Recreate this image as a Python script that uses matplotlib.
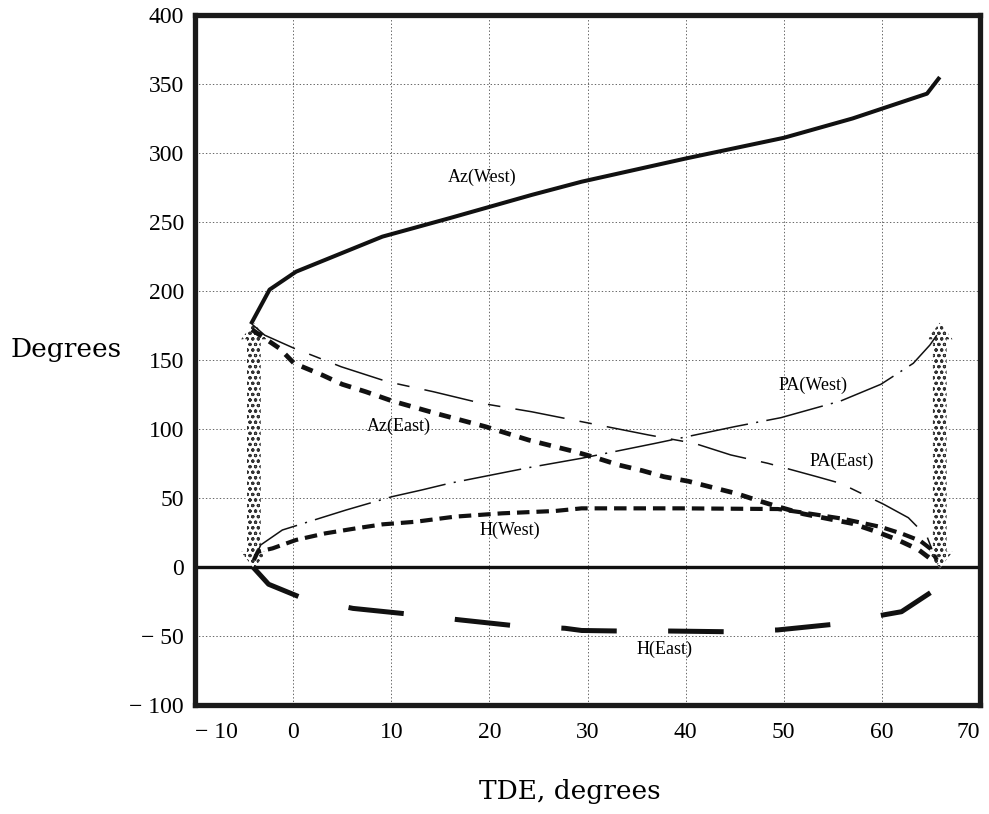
import matplotlib
matplotlib.use("Agg")
import matplotlib.pyplot as plt
from matplotlib.patches import Polygon

plt.rcParams["lines.scale_dashes"] = False
plt.rcParams["hatch.linewidth"] = 0.8

# TDE (degrees) and angle (degrees) samples for each curve
az_west_x = [-4.3, -3.8, -2.4, 0.3, 9.1, 15.9, 24.3, 29.4, 40.0, 50.0, 57.0, 64.6, 65.9]
az_west_y = [176, 182.6, 201, 214, 239.4, 252.7, 269.6, 279.2, 296, 311, 325, 343, 355]

az_east_x = [-4.2, -1.4, 0.1, 3.0, 5.0, 7.4, 10.1, 14.5, 19.6, 24.0, 28.7, 30.7, 33.2,
             35.6, 37.8, 40.3, 42.7, 45.1, 47.4, 49.4, 52.0, 57.0, 59.4, 61.5, 63.7, 65.5]
az_east_y = [172, 158.5, 147.6, 139, 132.4, 127, 120.3, 111.4, 101.7, 92, 83.6, 79.5, 73.9,
             69.8, 65.4, 62.1, 57.7, 53.4, 48.1, 43.7, 38.5, 31.5, 25.7, 20, 12.7, 3]

h_west_x = [-4.0, -3.6, -2.1, 0.3, 3.3, 6.4, 9.1, 12.5, 16.5, 21.3, 26.7, 29.4, 39.5,
            49.4, 51.9, 56.0, 59.9, 62.1, 63.9, 65.0, 65.6]
h_west_y = [5, 11, 13.5, 19.6, 24.4, 28, 30.9, 32.8, 36.5, 38.9, 40.6, 42.5, 42.5,
            42, 39.5, 35, 29, 24, 19, 13, 5]

h_east_x = [-4.1, -2.5, 1.0, 6.1, 11.6, 17.1, 22.5, 27.7, 29.4, 33.3, 38.4, 44.1,
            49.4, 55.1, 60.1, 62.0, 65.1, 65.8]
h_east_y = [0, -12.5, -22.7, -30, -34, -38.4, -42.5, -44.4, -46, -46.4, -46.4, -46.9,
            -45.6, -41.5, -34.8, -32.4, -17.9, 0]

pa_west_x = [-4.0, -3.3, -1.1, 2.7, 5.4, 10.1, 13.1, 15.9, 24.0, 29.4, 36.9, 45.0,
             49.7, 55.8, 59.9, 63.2, 64.9, 65.6]
pa_west_y = [5, 16, 26.8, 35.3, 41.3, 51, 55.8, 60.6, 72, 78.8, 89.6, 101.7,
             108.2, 120.3, 132.4, 147.6, 160.9, 168]

pa_east_x = [-4.2, -2.9, 0.1, 2.3, 4.9, 9.6, 14.3, 19.2, 24.3, 29.4, 31.1, 36.2,
             40.9, 44.6, 48.4, 53.4, 55.8, 60.2, 62.7, 64.6, 65.7]
pa_east_y = [176, 168, 158.5, 152.4, 145.1, 134.3, 127, 118.6, 112.5, 105.3, 102.9, 95.7,
             89.6, 81.2, 75.1, 65.4, 60.6, 45.4, 35.7, 22, 2]

# TDE limits marked by double arrows, and the angle span they cover
tde_limits = [-4.0, 65.9]
arrow_span = [-1, 177]

# curve labels: text, TDE, angle
curve_labels = [
    ("Az(West)", 19.3, 282),
    ("Az(East)", 10.8, 101.7),
    ("H(West)", 22.1, 26.8),
    ("PA(West)", 53.0, 131.4),
    ("PA(East)", 55.9, 76.3),
    ("H(East)", 37.8, -59.7),
]

x_ticks = [-10, 0, 10, 20, 30, 40, 50, 60, 70]
y_ticks = [-100, -50, 0, 50, 100, 150, 200, 250, 300, 350, 400]


def fmt(v):
    return "\u2212 " + str(abs(v)) if v < 0 else str(v)


fig = plt.figure(figsize=(9.89, 8.14), dpi=100)
ax = fig.add_axes([195 / 989, 1 - 705 / 814, 785 / 989, 690 / 814])
ax.set_xlim(-10, 70)
ax.set_ylim(-100, 400)

ax.set_xticks(x_ticks)
ax.set_yticks(y_ticks)
ax.set_xticklabels([fmt(v) for v in x_ticks], family="Liberation Serif", fontsize=17)
ax.set_yticklabels([fmt(v) for v in y_ticks], family="Liberation Serif", fontsize=17)
ax.tick_params(axis="x", length=0, pad=12)
ax.tick_params(axis="y", length=0, pad=8)
xlabels = ax.get_xticklabels()
xlabels[0].set_horizontalalignment("left")
xlabels[-1].set_horizontalalignment("right")
ax.grid(True, color="#666666", linewidth=0.7, linestyle=(0, (1, 1.5)))
ax.set_axisbelow(True)
for sp in ax.spines.values():
    sp.set_linewidth(3.8)
    sp.set_color("#1a1a1a")

ax.axhline(0, color="#111111", linewidth=2.4, zorder=2)

# stippled double-headed arrows at the TDE limits
hw_body, hw_head, head_len = 0.7, 1.3, 12
for xc in tde_limits:
    y0, y1 = arrow_span
    verts = [
        (xc, y0), (xc + hw_head, y0 + head_len), (xc + hw_body, y0 + head_len),
        (xc + hw_body, y1 - head_len), (xc + hw_head, y1 - head_len), (xc, y1),
        (xc - hw_head, y1 - head_len), (xc - hw_body, y1 - head_len),
        (xc - hw_body, y0 + head_len), (xc - hw_head, y0 + head_len),
    ]
    arrow = Polygon(verts, closed=True, facecolor="white", edgecolor="#333333",
                    linewidth=0, hatch="ooo", zorder=3)
    ax.add_patch(arrow)

k = "#111111"
ax.plot(az_west_x, az_west_y, color=k, linewidth=2.9, solid_capstyle="butt", zorder=4)
ax.plot(az_east_x, az_east_y, color=k, linewidth=3.4, dashes=(8.5, 6.5), zorder=4)
ax.plot(h_west_x, h_west_y, color=k, linewidth=3.0, dashes=(9, 5), zorder=4)
ax.plot(h_east_x, h_east_y, color=k, linewidth=3.6, dashes=(40, 37), zorder=4)
ax.plot(pa_west_x, pa_west_y, color=k, linewidth=1.1, dashes=(42, 6, 1.5, 6), zorder=4)
ax.plot(pa_east_x, pa_east_y, color=k, linewidth=1.1, dashes=(36, 11, 9, 11), zorder=4)

for text, tx, ty in curve_labels:
    ax.text(tx, ty, text, family="Liberation Serif", fontsize=13,
            ha="center", va="center", zorder=5)

fig.text(66 / 989, 1 - 350 / 814, "Degrees", family="DejaVu Serif", fontsize=19,
         ha="center", va="center")
fig.text(570 / 989, 1 - 791 / 814, "TDE, degrees", family="DejaVu Serif", fontsize=19,
         ha="center", va="center")

fig.savefig("out.png", dpi=100, facecolor="white")
